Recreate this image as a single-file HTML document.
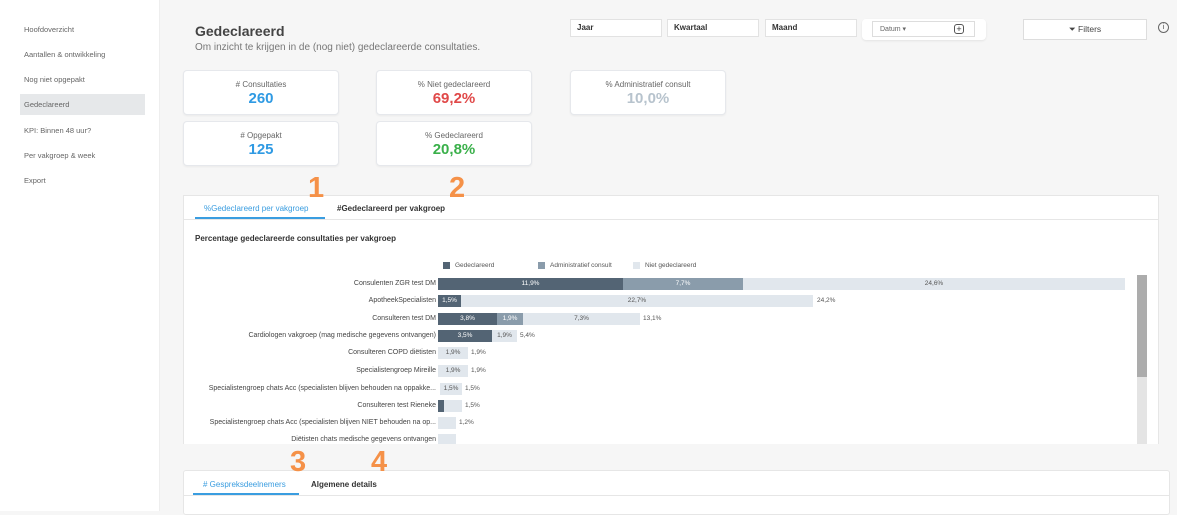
<!DOCTYPE html>
<html><head><meta charset="utf-8"><style>
*{margin:0;padding:0;box-sizing:border-box}
body{width:1177px;height:511px;overflow:hidden;background:#f6f6f6;font-family:"Liberation Sans",sans-serif;position:relative;color:#444}
.a{position:absolute}
.side{left:0;top:0;width:160px;height:511px;background:#fff;border-right:1px solid #eee}
.nav{left:24px;font-size:7.5px;color:#666}
.card{background:#fff;border:1px solid #e6e8ec;border-radius:4px;width:156px;height:45px;text-align:center;box-shadow:0 1px 2px rgba(0,0,0,.05)}
.card .t{font-size:8px;color:#666;margin-top:9px}
.card .v{font-size:15px;font-weight:bold;margin-top:1px}
.box{background:#fff;border:1px solid #e2e2e2;height:18px;font-size:8px;font-weight:bold;padding:3px 6px;color:#333}
.lab{font-size:7px;color:#444;text-align:right;width:260px;left:176px}
.bar{height:12px}
.d{background:#536474}.m{background:#8a9cab}.l{background:#e1e7ed}
.bt{font-size:6.5px;color:#fff;text-align:center;line-height:12px}
.bl{font-size:6.5px;color:#555;line-height:12px}
.num{color:#f59148;font-size:29px;font-weight:bold}
</style></head><body>
<div class="a side"></div>
<div class="a nav" style="top:25px">Hoofdoverzicht</div>
<div class="a nav" style="top:50px">Aantallen &amp; ontwikkeling</div>
<div class="a nav" style="top:75px">Nog niet opgepakt</div>
<div class="a" style="left:20px;top:94px;width:125px;height:21px;background:#e6e8ea"></div>
<div class="a nav" style="top:100px">Gedeclareerd</div>
<div class="a nav" style="top:126px">KPI: Binnen 48 uur?</div>
<div class="a nav" style="top:151px">Per vakgroep &amp; week</div>
<div class="a nav" style="top:176px">Export</div>

<div class="a" style="left:195px;top:23px;font-size:14px;font-weight:bold;color:#444">Gedeclareerd</div>
<div class="a" style="left:195px;top:42px;font-size:10px;color:#777">Om inzicht te krijgen in de (nog niet) gedeclareerde consultaties.</div>

<div class="a box" style="left:570px;top:19px;width:92px">Jaar</div>
<div class="a box" style="left:667px;top:19px;width:92px">Kwartaal</div>
<div class="a box" style="left:765px;top:19px;width:92px">Maand</div>
<div class="a" style="left:862px;top:19px;width:124px;height:21px;background:#fff;border-radius:4px;box-shadow:0 1px 2px rgba(0,0,0,.08)"></div>
<div class="a" style="left:872px;top:21px;width:103px;height:16px;border:1px solid #ddd;font-size:7px;color:#666;padding:3px 7px">Datum ▾</div>
<div class="a" style="left:954px;top:24px;width:10px;height:10px;border:1px solid #555;border-radius:3px;font-size:9px;line-height:8px;text-align:center;color:#333">+</div>
<div class="a" style="left:1023px;top:19px;width:124px;height:21px;background:#fff;border:1px solid #ddd;font-size:8.5px;text-align:center;line-height:19px;color:#444">⏷ Filters</div>
<div class="a" style="left:1158px;top:22px;width:11px;height:11px;border:1px solid #666;border-radius:50%;font-size:7px;text-align:center;line-height:9px">i</div>

<div class="a card" style="left:183px;top:70px"><div class="t"># Consultaties</div><div class="v" style="color:#2f9ae3">260</div></div>
<div class="a card" style="left:376px;top:70px"><div class="t">% Niet gedeclareerd</div><div class="v" style="color:#e04848">69,2%</div></div>
<div class="a card" style="left:570px;top:70px"><div class="t">% Administratief consult</div><div class="v" style="color:#b7c3cd">10,0%</div></div>
<div class="a card" style="left:183px;top:121px"><div class="t"># Opgepakt</div><div class="v" style="color:#2f9ae3">125</div></div>
<div class="a card" style="left:376px;top:121px"><div class="t">% Gedeclareerd</div><div class="v" style="color:#3ab04a">20,8%</div></div>

<!-- chart panel -->
<div class="a" style="left:183px;top:195px;width:976px;height:256px;background:#fff;border:1px solid #e6e6e6"></div>
<div class="a" style="left:183px;top:219px;width:976px;height:1px;background:#e6e6e6"></div>
<div class="a" style="left:204px;top:204px;font-size:8px;color:#3a9de0">%Gedeclareerd per vakgroep</div>
<div class="a" style="left:195px;top:217px;width:130px;height:2px;background:#3a9de0"></div>
<div class="a" style="left:337px;top:204px;font-size:8px;color:#333;font-weight:bold">#Gedeclareerd per vakgroep</div>
<div class="a" style="left:195px;top:234px;font-size:8px;color:#333;font-weight:bold">Percentage gedeclareerde consultaties per vakgroep</div>

<div class="a d" style="left:443px;top:262px;width:7px;height:7px"></div><div class="a" style="left:455px;top:262px;font-size:6.5px;color:#555">Gedeclareerd</div>
<div class="a m" style="left:538px;top:262px;width:7px;height:7px"></div><div class="a" style="left:550px;top:262px;font-size:6.5px;color:#555">Administratief consult</div>
<div class="a l" style="left:633px;top:262px;width:7px;height:7px"></div><div class="a" style="left:645px;top:262px;font-size:6.5px;color:#555">Niet gedeclareerd</div>

<div class="a lab" style="top:280px">Consulenten ZGR test DM</div>
<div class="a bar d bt" style="left:438px;top:278px;width:185px">11,9%</div>
<div class="a bar m bt" style="left:623px;top:278px;width:120px">7,7%</div>
<div class="a bar l bl" style="left:743px;top:278px;width:382px;text-align:center">24,6%</div>

<div class="a lab" style="top:297px">ApotheekSpecialisten</div>
<div class="a bar d bt" style="left:438px;top:295px;width:23px">1,5%</div>
<div class="a bar l bl" style="left:461px;top:295px;width:352px;text-align:center">22,7%</div>
<div class="a bl" style="left:817px;top:295px">24,2%</div>

<div class="a lab" style="top:315px">Consulteren test DM</div>
<div class="a bar d bt" style="left:438px;top:313px;width:59px">3,8%</div>
<div class="a bar m bt" style="left:497px;top:313px;width:26px">1,9%</div>
<div class="a bar l bl" style="left:523px;top:313px;width:117px;text-align:center">7,3%</div>
<div class="a bl" style="left:643px;top:313px">13,1%</div>

<div class="a lab" style="top:332px">Cardiologen vakgroep (mag medische gegevens ontvangen)</div>
<div class="a bar d bt" style="left:438px;top:330px;width:54px">3,5%</div>
<div class="a bar l bl" style="left:492px;top:330px;width:25px;text-align:center">1,9%</div>
<div class="a bl" style="left:520px;top:330px">5,4%</div>

<div class="a lab" style="top:349px">Consulteren COPD diëtisten</div>
<div class="a bar l bl" style="left:438px;top:347px;width:30px;text-align:center">1,9%</div>
<div class="a bl" style="left:471px;top:347px">1,9%</div>

<div class="a lab" style="top:367px">Specialistengroep Mireille</div>
<div class="a bar l bl" style="left:438px;top:365px;width:30px;text-align:center">1,9%</div>
<div class="a bl" style="left:471px;top:365px">1,9%</div>

<div class="a lab" style="top:385px">Specialistengroep chats Acc (specialisten blijven behouden na oppakke...</div>
<div class="a bar l bl" style="left:440px;top:383px;width:22px;text-align:center">1,5%</div>
<div class="a bl" style="left:465px;top:383px">1,5%</div>

<div class="a lab" style="top:402px">Consulteren test Rieneke</div>
<div class="a bar d" style="left:438px;top:400px;width:6px"></div>
<div class="a bar l" style="left:444px;top:400px;width:18px"></div>
<div class="a bl" style="left:465px;top:400px">1,5%</div>

<div class="a lab" style="top:419px">Specialistengroep chats Acc (specialisten blijven NIET behouden na op...</div>
<div class="a bar l" style="left:438px;top:417px;width:18px"></div>
<div class="a bl" style="left:459px;top:417px">1,2%</div>

<div class="a lab" style="top:436px">Diëtisten chats medische gegevens ontvangen</div>
<div class="a bar l" style="left:438px;top:434px;width:18px;height:10px"></div>

<div class="a" style="left:1137px;top:275px;width:10px;height:170px;background:#e4e4e4"></div>
<div class="a" style="left:1137px;top:275px;width:10px;height:102px;background:#acacac"></div>
<div class="a" style="left:183px;top:444px;width:976px;height:8px;background:#f6f6f6"></div>

<!-- second panel -->
<div class="a" style="left:183px;top:470px;width:987px;height:45px;background:#fff;border:1px solid #e6e6e6;border-radius:3px"></div>
<div class="a" style="left:183px;top:495px;width:987px;height:1px;background:#e6e6e6"></div>
<div class="a" style="left:203px;top:480px;font-size:8px;color:#3a9de0"># Gespreksdeelnemers</div>
<div class="a" style="left:193px;top:493px;width:106px;height:2px;background:#3a9de0"></div>
<div class="a" style="left:311px;top:480px;font-size:8px;color:#333;font-weight:bold">Algemene details</div>

<div class="a num" style="left:308px;top:172px">1</div>
<div class="a num" style="left:449px;top:172px">2</div>
<div class="a num" style="left:290px;top:446px">3</div>
<div class="a num" style="left:371px;top:446px">4</div>
</body></html>
